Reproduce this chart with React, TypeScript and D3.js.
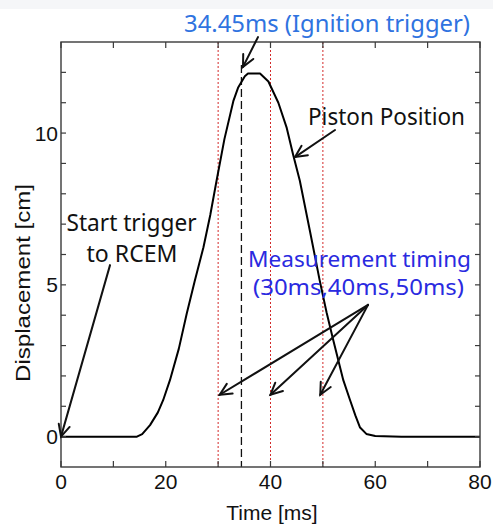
import React from "react";
import * as d3 from "d3";

// Piston displacement trace (time in ms, displacement in cm)
const timeMs = [0, 5, 10, 14.5, 15.5, 17, 18.5, 19.5, 20.8, 22.5, 24, 25.5, 27.2, 28.5, 29.7, 31.2, 32.9, 33.8, 35.1, 35.7, 38, 39.6, 41.5, 43.1, 44.3, 45.6, 47.5, 49.4, 50.7, 52, 53.9, 55.2, 56.2, 57.1, 58.3, 60, 65, 70, 80];
const displacementCm = [0, 0, 0, 0, 0.08, 0.38, 0.8, 1.2, 1.86, 2.9, 4.05, 5.1, 6.24, 7.3, 8.43, 9.8, 11.05, 11.49, 11.87, 11.96, 11.96, 11.7, 11.0, 10.17, 9.3, 8.43, 6.8, 5.14, 4.1, 3.17, 1.86, 1.2, 0.7, 0.3, 0.09, 0.02, 0, 0, 0];

const xTickLabels = [0, 20, 40, 60, 80];
const xTicksAll = [0, 10, 20, 30, 40, 50, 60, 70, 80];
const yTickLabels = [0, 5, 10];
const yTicksAll = [0, 1, 2, 3, 4, 5, 6, 7, 8, 9, 10, 11, 12];
const measurementTimes = [30, 40, 50];
const ignitionTime = 34.45;

const W = 493, H = 524;
const x = d3.scaleLinear().domain([0, 80]).range([61, 480]);
const y = d3.scaleLinear().domain([-1, 13]).range([467, 42]);

function Arrow({ x1, y1, x2, y2 }: { x1: number; y1: number; x2: number; y2: number }) {
  const ang = Math.atan2(y2 - y1, x2 - x1);
  const L = 13, a = 0.45;
  const h1 = [x2 - L * Math.cos(ang - a), y2 - L * Math.sin(ang - a)];
  const h2 = [x2 - L * Math.cos(ang + a), y2 - L * Math.sin(ang + a)];
  return (
    <g stroke="#111" strokeWidth={2} fill="none" strokeLinecap="round">
      <line x1={x1} y1={y1} x2={x2} y2={y2} />
      <path d={`M${h1[0]},${h1[1]}L${x2},${y2}L${h2[0]},${h2[1]}`} />
    </g>
  );
}

export default function App() {
  const line = d3
    .line<number>()
    .x((_, i) => x(timeMs[i]))
    .y((d) => y(d));
  const axisFont = "'Liberation Sans', Arial, sans-serif";
  const annFont = "'Noto Sans', 'DejaVu Sans', sans-serif";
  const [x0, x1] = x.range();
  const [yb, yt] = y.range();
  return (
    <svg width={W} height={H} style={{ position: "absolute", left: 0, top: 0, background: "#fff" }}>
      <rect x={0} y={0} width={W} height={9} fill="#f5f6f8" />
      {/* measurement timing lines */}
      {measurementTimes.map((t) => (
        <line key={t} x1={x(t)} x2={x(t)} y1={yt} y2={yb} stroke="#d42a2a" strokeWidth={1} strokeDasharray="2,2" />
      ))}
      <line x1={x(ignitionTime)} x2={x(ignitionTime)} y1={y(12.24)} y2={yb} stroke="#111" strokeWidth={1.3} strokeDasharray="8,4" />
      {/* curve */}
      <path d={line(displacementCm) || ""} fill="none" stroke="#000" strokeWidth={2} strokeLinejoin="round" />
      {/* frame */}
      <rect x={x0} y={yt} width={x1 - x0} height={yb - yt} fill="none" stroke="#3a3a3a" strokeWidth={1.4} />
      {xTicksAll.map((t) => (
        <g key={t} stroke="#3a3a3a" strokeWidth={1.2}>
          <line x1={x(t)} x2={x(t)} y1={yb} y2={yb - 6} />
          <line x1={x(t)} x2={x(t)} y1={yt} y2={yt + 6} />
        </g>
      ))}
      {yTicksAll.map((t) => (
        <g key={t} stroke="#3a3a3a" strokeWidth={1.2}>
          <line x1={x0} x2={x0 + 5} y1={y(t)} y2={y(t)} />
          <line x1={x1} x2={x1 - 5} y1={y(t)} y2={y(t)} />
        </g>
      ))}
      {xTickLabels.map((t) => (
        <text key={t} x={x(t)} y={489} textAnchor="middle" fontFamily={axisFont} fontSize={21} fill="#111">
          {t}
        </text>
      ))}
      {yTickLabels.map((t) => (
        <text key={t} x={58} y={y(t) + 7.5} textAnchor="end" fontFamily={axisFont} fontSize={21} fill="#111">
          {t}
        </text>
      ))}
      <text x={272} y={520} textAnchor="middle" fontFamily={axisFont} fontSize={21} fill="#111">
        Time [ms]
      </text>
      <text transform="translate(30,283) rotate(-90)" textAnchor="middle" fontFamily={axisFont} fontSize={21} fill="#111" textLength={198} lengthAdjust="spacingAndGlyphs">
        Displacement [cm]
      </text>
      {/* annotations */}
      <text x={184} y={32} fontFamily={annFont} fontSize={23} fill="#2f73e0" textLength={286} lengthAdjust="spacingAndGlyphs">
        34.45ms (Ignition trigger)
      </text>
      <text x={308} y={125} fontFamily={annFont} fontSize={23} fill="#111" textLength={157} lengthAdjust="spacingAndGlyphs">
        Piston Position
      </text>
      <text x={66.5} y={230.5} fontFamily={annFont} fontSize={23} fill="#111" textLength={130} lengthAdjust="spacingAndGlyphs">
        Start trigger
      </text>
      <text x={86.5} y={261.5} fontFamily={annFont} fontSize={23} fill="#111" textLength={91} lengthAdjust="spacingAndGlyphs">
        to RCEM
      </text>
      <text x={248} y={267} fontFamily={annFont} fontSize={22} fill="#2a2ae0" textLength={223} lengthAdjust="spacingAndGlyphs">
        Measurement timing
      </text>
      <text x={253} y={295} fontFamily={annFont} fontSize={22} fill="#2a2ae0" textLength={211} lengthAdjust="spacingAndGlyphs">
        (30ms,40ms,50ms)
      </text>
      <Arrow x1={x(37.61)} y1={y(13.16)} x2={x(34.75)} y2={y(12.18)} />
      <Arrow x1={x(52.32)} y1={y(10.1)} x2={x(44.68)} y2={y(9.21)} />
      <Arrow x1={x(9.36)} y1={y(5.65)} x2={x(0)} y2={y(0)} />
      {[30.3, 40, 49.5].map((t) => (
        <Arrow key={t} x1={x(58.62)} y1={y(4.34)} x2={x(t)} y2={y(1.38)} />
      ))}
    </svg>
  );
}
